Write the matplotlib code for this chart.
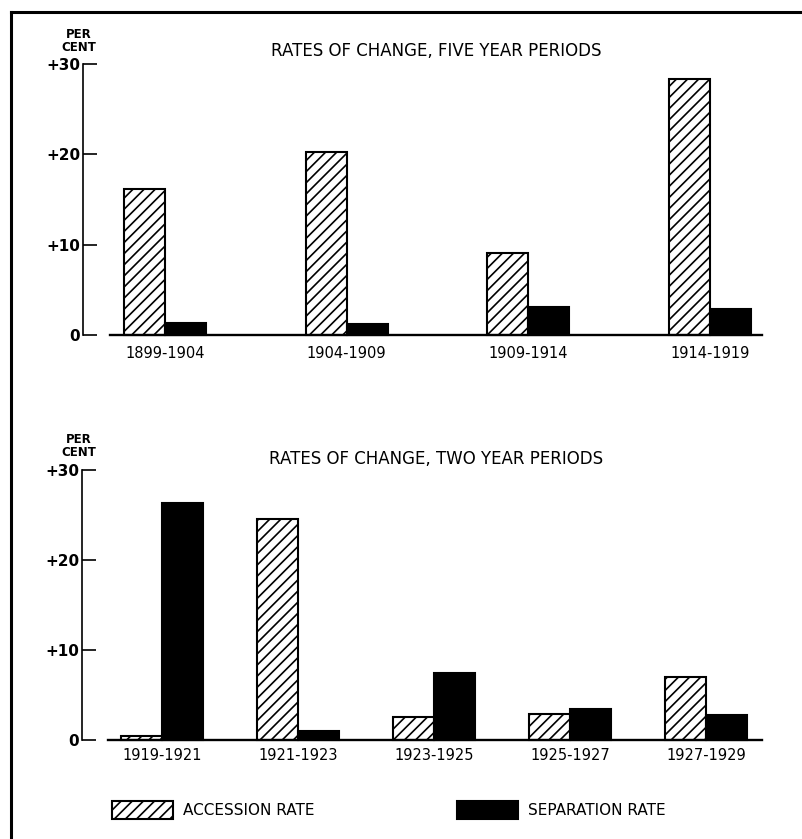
import matplotlib
matplotlib.use("Agg")
import matplotlib.pyplot as plt
from matplotlib.patches import Patch
from matplotlib.lines import Line2D
import numpy as np

plt.rcParams['font.family'] = ['DejaVu Sans']
plt.rcParams['hatch.linewidth'] = 1.2

# ---- data ----
five_year_periods = ["1899-1904", "1904-1909", "1909-1914", "1914-1919"]
five_accession = [16.2, 20.3, 9.1, 28.3]
five_separation = [1.3, 1.2, 3.1, 2.9]

two_year_periods = ["1919-1921", "1921-1923", "1923-1925", "1925-1927", "1927-1929"]
two_accession = [0.5, 24.6, 2.6, 2.9, 7.0]
two_separation = [26.3, 1.0, 7.4, 3.5, 2.8]

y_ticks = [0, 10, 20, 30]
y_tick_labels = ["0", "+10", "+20", "+30"]

title_top = "RATES OF CHANGE, FIVE YEAR PERIODS"
title_bottom = "RATES OF CHANGE, TWO YEAR PERIODS"
legend_labels = ["ACCESSION RATE", "SEPARATION RATE"]

W, H = 802, 839
fig = plt.figure(figsize=(W / 100, H / 100), dpi=100)
fig.patch.set_facecolor("white")


def fx(px):
    return px / W


def fy(py):
    return 1 - py / H


def panel(left, right, y0, y30, spacing, center0, width_px, base_left,
          cats, acc, sep, title, title_y, pc_y, label_pad):
    ax = fig.add_axes([fx(left), fy(y0), fx(right) - fx(left), fy(y30) - fy(y0)])
    x = np.arange(len(cats))
    w = width_px / spacing
    ax.bar(x, acc, width=-w, align="edge", facecolor="white", edgecolor="black",
           hatch="///", linewidth=1.5, clip_on=False, zorder=3)
    ax.bar(x, sep, width=w, align="edge", facecolor="black", edgecolor="black",
           linewidth=1.5, clip_on=False, zorder=3)
    ax.set_xlim((left - center0) / spacing, (right - center0) / spacing)
    ax.set_ylim(0, 30)
    ax.axhline(0, xmin=(base_left - left) / (right - left), xmax=1, color="black",
               linewidth=1.7, clip_on=False, zorder=4)
    for s in ["top", "right", "bottom"]:
        ax.spines[s].set_visible(False)
    ax.spines["left"].set_linewidth(1.2)
    ax.set_yticks(y_ticks)
    ax.set_yticklabels(y_tick_labels, fontsize=11, fontweight="bold")
    ax.tick_params(axis="y", direction="in", length=10, width=1.2, pad=2)
    ax.set_xticks(x)
    ax.set_xticklabels(cats, fontsize=10.5)
    ax.tick_params(axis="x", length=0, pad=label_pad)
    ax.patch.set_alpha(0)
    fig.text(fx(436), fy(title_y), title, ha="center", va="center", fontsize=12)
    fig.text(fx(79), fy(pc_y), "PER\nCENT", ha="center", va="center", fontsize=8.5,
             fontweight="bold", linespacing=1.0)
    return ax


panel(83, 762, 335, 64, 181.7, 165, 41, 110,
      five_year_periods, five_accession, five_separation, title_top, 51, 41, 8)
panel(82, 762, 740, 470, 136, 162, 41, 108,
      two_year_periods, two_accession, two_separation, title_bottom, 459, 446, 6)

# legend
h_acc = Patch(facecolor="white", edgecolor="black", hatch="///", linewidth=1.5)
h_sep = Patch(facecolor="black", edgecolor="black", linewidth=1.5)
for handle, label, xpx in [(h_acc, legend_labels[0], 112), (h_sep, legend_labels[1], 457)]:
    leg = fig.legend([handle], [label], loc="center left",
                     bbox_to_anchor=(fx(xpx), fy(810)), frameon=False, fontsize=11,
                     handlelength=4.0, handleheight=1.5, handletextpad=0.65,
                     borderpad=0, borderaxespad=0)

# outer frame (top and left rules)
fig.add_artist(Line2D([fx(11), 1], [fy(12), fy(12)], color="black", linewidth=2.2))
fig.add_artist(Line2D([fx(11), fx(11)], [fy(12), 0], color="black", linewidth=2.2))

fig.savefig("out.png", dpi=100)
